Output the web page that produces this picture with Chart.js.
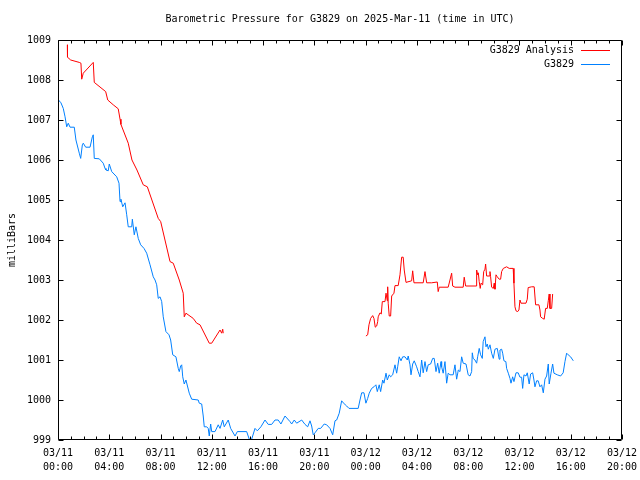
<!DOCTYPE html>
<html>
<head>
<meta charset="utf-8">
<script src="https://cdn.jsdelivr.net/npm/chart.js@4"></script>
<style>
  body { margin: 0; background: #fff; }
  canvas { display: block; }
</style>
</head>
<body>
<canvas id="myChart" width="640" height="480"></canvas>
<script>
const chartTitle = "Barometric Pressure for G3829 on 2025-Mar-11 (time in UTC)";
const yTitle = "milliBars";
const seriesNames = ["G3829 Analysis", "G3829"];
const seriesColors = ["#ff0000", "#0080ff"];

// hours since 03/11 00:00 UTC
const analysisHours = [
  0.73, 0.74, 0.99, 1.66, 1.79, 1.85, 1.97, 2.75, 2.83, 3.72, 3.88, 4.31, 4.70, 4.84, 4.91,
  5.48, 5.77, 6.16, 6.65, 6.97, 7.82, 8.01, 8.74, 8.99, 9.46, 9.77, 9.85, 9.98, 10.55, 10.82,
  11.08, 11.80, 11.99, 12.64, 12.77, 12.85, 12.89,
  18,
  24.02, 24.16, 24.26, 24.39, 24.55, 24.65, 24.75, 24.86, 24.94, 24.98, 25.12, 25.22, 25.30,
  25.51, 25.59, 25.69, 25.72, 25.76, 25.84, 25.95, 26.03, 26.21, 26.29, 26.54, 26.68, 26.81,
  26.93, 27.01, 27.15, 27.59, 27.67, 27.77, 28.49, 28.63, 28.76, 29.15, 29.59, 29.66, 29.74,
  30.44, 30.58, 30.71, 30.79, 30.97, 31.61, 31.69, 31.80, 32.61, 32.66, 32.74, 32.79, 32.86,
  32.94, 33.00, 33.13, 33.21, 33.31, 33.36, 33.44, 33.64, 33.70, 33.75, 33.83, 33.96, 34.03,
  34.09, 34.17, 34.27, 34.42, 34.53, 34.61, 34.74, 34.87, 35.00, 35.20, 35.51, 35.57, 35.65,
  35.73, 35.86, 35.96, 36.04, 36.12, 36.51, 36.61, 36.68, 36.95, 37.15, 37.26, 37.52, 37.60,
  37.65, 37.81, 37.93, 38.04, 38.17, 38.25, 38.32, 38.38, 38.51, 38.59
];
const analysisValues = [
  1008.88, 1008.57, 1008.50, 1008.44, 1008.42, 1008.02, 1008.17, 1008.44, 1007.94, 1007.71,
  1007.50, 1007.38, 1007.28, 1007.02, 1006.89, 1006.42, 1006.00, 1005.75, 1005.38, 1005.33,
  1004.54, 1004.46, 1003.46, 1003.42, 1003.00, 1002.67, 1002.08, 1002.17, 1002.04, 1001.92,
  1001.88, 1001.42, 1001.42, 1001.75, 1001.67, 1001.77, 1001.67,
  null,
  1001.60, 1001.63, 1001.88, 1002.04, 1002.11, 1002.04, 1001.82, 1001.85, 1001.96, 1002.08,
  1002.18, 1002.15, 1002.46, 1002.46, 1002.67, 1002.48, 1002.83, 1002.42, 1002.10, 1002.10,
  1002.60, 1002.67, 1002.86, 1002.86, 1003.13, 1003.57, 1003.57, 1003.25, 1002.94, 1002.98,
  1003.23, 1002.93, 1002.93, 1003.21, 1002.93, 1002.93, 1002.95, 1002.71, 1002.82, 1002.82,
  1003.00, 1003.17, 1002.85, 1002.82, 1002.82, 1003.07, 1002.85, 1002.85, 1003.25, 1003.13,
  1003.18, 1002.96, 1002.79, 1002.92, 1002.88, 1003.21, 1003.27, 1003.40, 1003.10, 1003.10,
  1003.21, 1003.08, 1002.82, 1002.79, 1002.92, 1002.77, 1003.13, 1003.08, 1003.02, 1003.02,
  1003.21, 1003.29, 1003.31, 1003.33, 1003.29, 1003.29, 1002.92, 1002.33, 1002.23, 1002.21,
  1002.25, 1002.50, 1002.42, 1002.42, 1002.52, 1002.81, 1002.83, 1002.83, 1002.38, 1002.38,
  1002.25, 1002.08, 1002.04, 1002.02, 1002.29, 1002.29, 1002.48, 1002.65, 1002.29, 1002.29,
  1002.65
];

const stationHours = [
  0.04, 0.23, 0.41, 0.55, 0.68, 0.80, 0.94, 1.27, 1.40, 1.66, 1.77, 1.90, 1.97, 2.16, 2.50,
  2.68, 2.75, 2.83, 3.22, 3.53, 3.67, 3.74, 3.92, 4.00, 4.19, 4.58, 4.76, 4.84, 4.91, 5.05,
  5.23, 5.36, 5.48, 5.75, 5.80, 5.95, 6.08, 6.26, 6.45, 6.71, 6.92, 7.18, 7.43, 7.57, 7.70,
  7.82, 7.96, 8.09, 8.21, 8.42, 8.66, 8.79, 8.95, 9.20, 9.38, 9.46, 9.57, 9.65, 9.73, 9.85,
  9.98, 10.24, 10.43, 10.94, 11.02, 11.21, 11.33, 11.41, 11.60, 11.72, 11.80, 11.91, 11.99,
  12.25, 12.50, 12.64, 12.85, 12.97, 13.28, 13.47, 13.81, 13.99, 14.72, 14.92, 15.11, 15.37,
  15.55, 15.83, 16.15, 16.40, 16.67, 16.93, 17.18, 17.39, 17.71, 18.10, 18.23, 18.43, 18.62,
  19.01, 19.27, 19.48, 19.66, 19.79, 19.91, 20.05, 20.30, 20.49, 20.77, 20.96, 21.22, 21.43,
  21.61, 21.74, 21.94, 22.13, 22.25, 22.52, 22.70, 23.42, 23.56, 23.69, 23.87, 24.02, 24.16,
  24.28, 24.47, 24.65, 24.80, 24.91, 25.06, 25.17, 25.33, 25.43, 25.59, 25.69, 25.84, 25.95,
  26.11, 26.29, 26.42, 26.50, 26.62, 26.76, 26.89, 27.07, 27.25, 27.32, 27.46, 27.54, 27.67,
  27.79, 27.98, 28.10, 28.24, 28.37, 28.49, 28.63, 28.76, 28.88, 29.07, 29.23, 29.35, 29.49,
  29.62, 29.74, 29.88, 29.93, 30.05, 30.19, 30.32, 30.44, 30.58, 30.83, 30.97, 31.10, 31.23,
  31.36, 31.49, 31.61, 31.83, 32.00, 32.14, 32.27, 32.32, 32.39, 32.53, 32.66, 32.74, 32.86,
  32.97, 33.10, 33.17, 33.31, 33.39, 33.49, 33.57, 33.70, 33.83, 33.96, 34.09, 34.27, 34.42,
  34.48, 34.61, 34.69, 34.79, 34.94, 35.00, 35.13, 35.26, 35.34, 35.47, 35.57, 35.73, 35.90,
  36.04, 36.17, 36.25, 36.35, 36.51, 36.61, 36.76, 36.87, 37.03, 37.13, 37.21, 37.34, 37.46,
  37.60, 37.73, 37.86, 37.99, 38.12, 38.25, 38.32, 38.46, 38.59, 38.69, 38.95, 39.21, 39.41,
  39.55, 39.68, 39.80, 39.99, 40.20
];
const stationValues = [
  1007.50, 1007.43, 1007.29, 1007.08, 1006.83, 1006.92, 1006.82, 1006.82, 1006.50, 1006.17,
  1006.04, 1006.38, 1006.42, 1006.32, 1006.32, 1006.58, 1006.63, 1006.04, 1006.03, 1005.92,
  1005.79, 1005.75, 1005.73, 1005.90, 1005.71, 1005.58, 1005.42, 1004.96, 1005.02, 1004.83,
  1004.93, 1004.63, 1004.33, 1004.33, 1004.52, 1004.13, 1004.33, 1004.04, 1003.88, 1003.79,
  1003.67, 1003.38, 1003.08, 1003.00, 1002.88, 1002.54, 1002.58, 1002.46, 1002.08, 1001.71,
  1001.63, 1001.50, 1001.13, 1001.08, 1000.79, 1000.71, 1000.85, 1000.88, 1000.58, 1000.40,
  1000.50, 1000.17, 1000.02, 1000.00, 999.92, 999.90, 999.60, 999.33, 999.33, 999.29,
  999.10, 999.40, 999.21, 999.21, 999.38, 999.29, 999.50, 999.33, 999.50, 999.29,
  999.10, 999.21, 999.21, 999.02, 999.02, 999.29, 999.23, 999.33, 999.50, 999.39,
  999.39, 999.50, 999.50, 999.40, 999.60, 999.46, 999.40, 999.50, 999.42, 999.50,
  999.39, 999.33, 999.48, 999.35, 999.13, 999.18, 999.29, 999.29, 999.40, 999.38,
  999.29, 999.13, 999.48, 999.50, 999.67, 999.98, 999.93, 999.85, 999.79, 999.79,
  1000.00, 1000.18, 1000.18, 999.92, 1000.04, 1000.17, 1000.29, 1000.33, 1000.38, 1000.21,
  1000.38, 1000.21, 1000.50, 1000.42, 1000.67, 1000.50, 1000.63, 1000.58, 1000.63, 1000.88,
  1000.67, 1000.83, 1001.08, 1000.98, 1001.08, 1001.08, 1001.00, 1001.10, 1000.88, 1000.63,
  1000.90, 1000.98, 1000.83, 1000.71, 1000.58, 1001.00, 1000.68, 1000.96, 1000.71, 1000.88,
  1000.90, 1001.04, 1001.04, 1000.71, 1000.92, 1000.67, 1000.96, 1000.83, 1000.67, 1000.96,
  1000.42, 1000.67, 1000.63, 1000.63, 1000.88, 1000.52, 1000.75, 1000.71, 1001.08, 1000.92,
  1000.90, 1000.63, 1000.60, 1000.71, 1001.18, 1001.04, 1001.00, 1000.92, 1001.08, 1001.29,
  1001.13, 1001.04, 1001.46, 1001.58, 1001.33, 1001.40, 1001.27, 1001.38, 1001.17, 1001.04,
  1001.27, 1001.29, 1001.02, 1001.25, 1001.27, 1001.17, 1000.98, 1000.96, 1000.79, 1000.67,
  1000.54, 1000.42, 1000.58, 1000.46, 1000.68, 1000.68, 1000.57, 1000.57, 1000.29, 1000.63,
  1000.60, 1000.68, 1000.40, 1000.65, 1000.68, 1000.50, 1000.33, 1000.48, 1000.48, 1000.33,
  1000.38, 1000.18, 1000.52, 1000.60, 1000.90, 1000.40, 1000.67, 1000.90, 1000.67, 1000.63,
  1000.60, 1000.68, 1000.96, 1001.17, 1001.13, 1001.08, 1000.98
];

const majorTickHours = [0, 4, 8, 12, 16, 20, 24, 28, 32, 36, 40, 44];
const tickDates = ["03/11", "03/11", "03/11", "03/11", "03/11", "03/11",
                   "03/12", "03/12", "03/12", "03/12", "03/12", "03/12"];
const tickTimes = ["00:00", "04:00", "08:00", "12:00", "16:00", "20:00",
                   "00:00", "04:00", "08:00", "12:00", "16:00", "20:00"];

const FONT = "'DejaVu Sans Mono', 'Liberation Mono', monospace";

function toPoints(xs, ys) {
  const pts = [];
  for (let i = 0; i < xs.length; i++) {
    pts.push({ x: xs[i], y: ys[i] });
  }
  return pts;
}

// gnuplot style frame: border, inward ticks, title, y label, legend
const framePlugin = {
  id: "frame",
  afterDatasetsDraw(chart) {
    const c = chart.ctx;
    const a = chart.chartArea;
    const xs = chart.scales.x;
    const ys = chart.scales.y;
    const L = Math.round(a.left) + 0.5;
    const R = Math.round(a.right) - 0.5;
    const T = Math.round(a.top) + 0.5;
    const B = Math.round(a.bottom) - 0.5;
    c.save();
    c.strokeStyle = "#000";
    c.lineWidth = 1;
    c.beginPath();
    c.rect(L, T, R - L, B - T);
    for (let h = 0; h <= 44; h++) {
      const px = Math.round(xs.getPixelForValue(h)) + 0.5;
      const len = h % 4 === 0 ? 5 : 3;
      c.moveTo(px, B); c.lineTo(px, B - len);
      c.moveTo(px, T); c.lineTo(px, T + len);
    }
    for (let v = 999; v <= 1009; v++) {
      const py = Math.round(ys.getPixelForValue(v)) + 0.5;
      c.moveTo(L, py); c.lineTo(L + 5, py);
      c.moveTo(R, py); c.lineTo(R - 5, py);
    }
    c.stroke();
    c.restore();
  },
  afterDraw(chart) {
    const c = chart.ctx;
    const a = chart.chartArea;
    c.save();
    c.fillStyle = "#000";
    c.font = "10px " + FONT;
    c.textBaseline = "middle";
    c.textAlign = "center";
    c.fillText(chartTitle, (a.left + a.right) / 2, 19);

    c.save();
    c.translate(12, (a.top + a.bottom) / 2);
    c.rotate(-Math.PI / 2);
    c.fillText(yTitle, 0, 0);
    c.restore();

    for (let i = 0; i < seriesNames.length; i++) {
      const y = Math.round(a.top + 10 + i * 14) + 0.5;
      c.textAlign = "right";
      c.fillStyle = "#000";
      c.fillText(seriesNames[i], 574, y);
      c.strokeStyle = seriesColors[i];
      c.lineWidth = 1;
      c.beginPath();
      c.moveTo(581, y);
      c.lineTo(610, y);
      c.stroke();
    }
    c.restore();
  }
};

new Chart(document.getElementById("myChart"), {
  type: "line",
  data: {
    datasets: [
      {
        label: seriesNames[0],
        data: toPoints(analysisHours, analysisValues),
        borderColor: seriesColors[0],
        borderWidth: 1,
        pointRadius: 0,
        tension: 0,
        spanGaps: false,
      },
      {
        label: seriesNames[1],
        data: toPoints(stationHours, stationValues),
        borderColor: seriesColors[1],
        borderWidth: 1,
        pointRadius: 0,
        tension: 0,
      },
    ],
  },
  options: {
    responsive: false,
    animation: false,
    events: [],
    layout: {
      padding: { left: 0, right: 18, top: 40, bottom: 0 },
    },
    plugins: {
      legend: { display: false },
      title: { display: false },
      tooltip: { enabled: false },
    },
    scales: {
      x: {
        type: "linear",
        min: 0,
        max: 44,
        afterFit(scale) {
          scale.height = 40;
          scale.paddingLeft = 0;
          scale.paddingRight = 0;
        },
        grid: { display: false, drawTicks: false },
        border: { display: false },
        ticks: {
          stepSize: 1,
          autoSkip: false,
          maxRotation: 0,
          padding: 6,
          color: "#000",
          font: { family: FONT, size: 10, lineHeight: 1.4 },
          callback(value) {
            const i = majorTickHours.indexOf(value);
            return i >= 0 ? [tickDates[i], tickTimes[i]] : "";
          },
        },
      },
      y: {
        min: 999,
        max: 1009,
        afterFit(scale) {
          scale.width = 58;
          scale.paddingTop = 0;
          scale.paddingBottom = 0;
        },
        grid: { display: false, drawTicks: false },
        border: { display: false },
        ticks: {
          stepSize: 1,
          padding: 7,
          color: "#000",
          font: { family: FONT, size: 10 },
          callback(value) {
            return String(value);
          },
        },
      },
    },
  },
  plugins: [framePlugin],
});
</script>
</body>
</html>
